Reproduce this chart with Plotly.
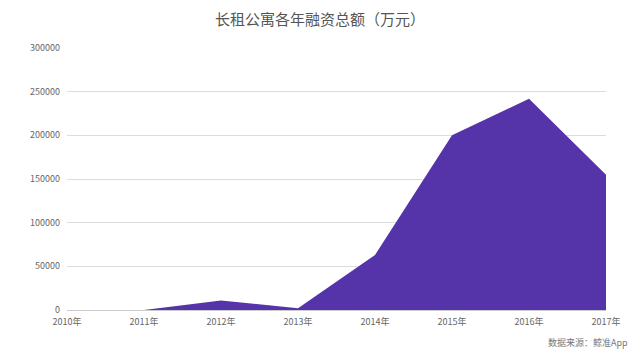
import plotly.graph_objects as go

years = ["2010年", "2011年", "2012年", "2013年", "2014年", "2015年", "2016年", "2017年"]
amounts = [0, 0, 11000, 2000, 63000, 200000, 242000, 155000]
y_ticks = [0, 50000, 100000, 150000, 200000, 250000, 300000]

fig = go.Figure()
fig.add_trace(go.Scatter(
    x=list(range(len(years))), y=amounts, mode="lines",
    fill="tozeroy", fillcolor="#5533a8",
    line=dict(color="#5533a8", width=0),
    hoverinfo="skip", showlegend=False,
))

font = "Noto Sans CJK SC, Noto Sans, sans-serif"
fig.update_layout(
    width=640, height=353,
    margin=dict(l=67, r=34, t=48, b=43),
    paper_bgcolor="white", plot_bgcolor="white",
    font=dict(family=font, color="#666", size=9),
    title=dict(text="长租公寓各年融资总额（万元）", x=0.5, xanchor="center",
               y=0.945, yanchor="middle",
               font=dict(size=15, color="#555", family=font)),
    xaxis=dict(
        tickmode="array", tickvals=list(range(len(years))), ticktext=years,
        range=[0, len(years) - 1], showgrid=False, zeroline=False,
        showline=False, ticks="", ticklabelstandoff=5,
        tickfont=dict(size=9, color="#666"),
    ),
    yaxis=dict(
        tickmode="array", tickvals=y_ticks, ticktext=[str(v) for v in y_ticks],
        range=[0, 300000], showgrid=True, gridcolor="#dcdcdc", gridwidth=1,
        zeroline=True, zerolinecolor="#cccccc", zerolinewidth=1,
        showline=False, ticks="", ticklabelstandoff=6,
        tickfont=dict(size=9, color="#666"),
    ),
    annotations=[dict(
        text="数据来源：鲸准App", xref="paper", yref="paper",
        x=1.045, y=-0.09, xanchor="right", yanchor="top", showarrow=False,
        font=dict(size=9, color="#777", family=font),
    )],
)

fig.write_html("out.html")
